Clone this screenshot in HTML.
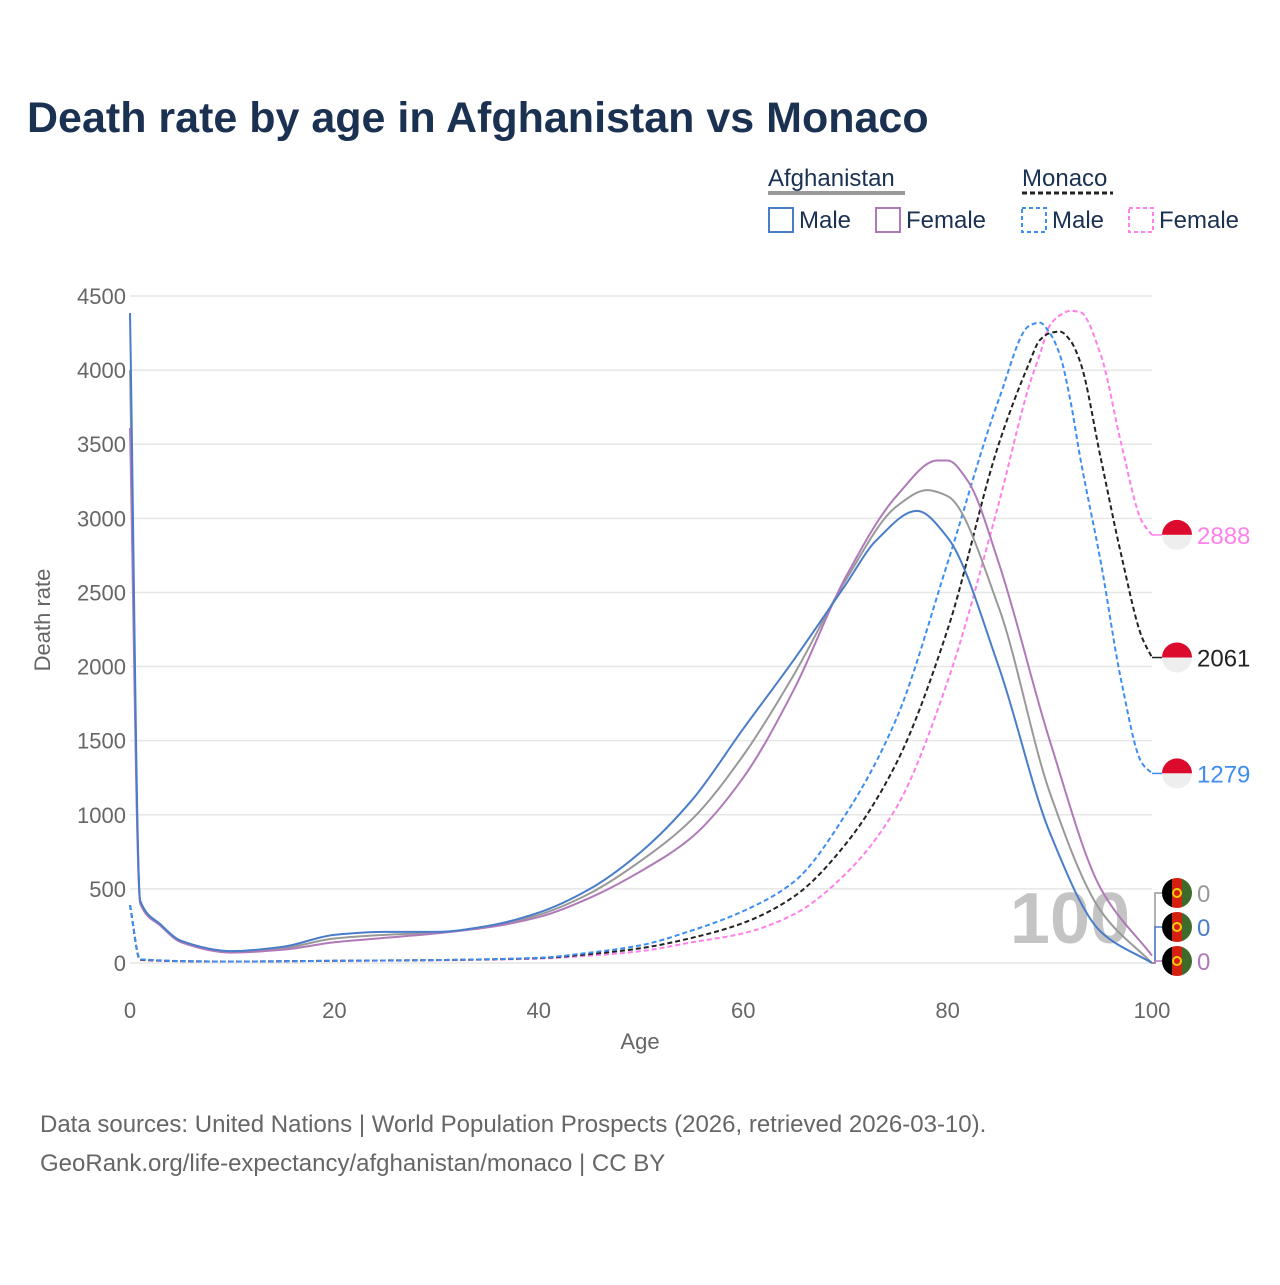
<!DOCTYPE html>
<html><head><meta charset="utf-8">
<style>
body{margin:0;background:#fff;font-family:"Liberation Sans",sans-serif;}
svg text{font-family:"Liberation Sans",sans-serif;}
</style></head>
<body>
<svg width="1280" height="1280" viewBox="0 0 1280 1280">
<defs id="defs"></defs>
<text x="27" y="132" font-size="43" font-weight="bold" fill="#1b3152">Death rate by age in Afghanistan vs Monaco</text>
<g>
<text x="768" y="186" font-size="24" fill="#1b3152">Afghanistan</text>
<line x1="768" y1="193" x2="905" y2="193" stroke="#999" stroke-width="4"/>
<text x="1022" y="186" font-size="24" fill="#1b3152">Monaco</text>
<line x1="1022" y1="193" x2="1113" y2="193" stroke="#222" stroke-width="3" stroke-dasharray="5,3"/>
<rect x="769" y="208" width="24" height="24" fill="none" stroke="#4a7dc9" stroke-width="2"/>
<text x="799" y="228" font-size="24" fill="#1b3152">Male</text>
<rect x="876" y="208" width="24" height="24" fill="none" stroke="#b07ab8" stroke-width="2"/>
<text x="906" y="228" font-size="24" fill="#1b3152">Female</text>
<rect x="1022" y="208" width="24" height="24" fill="none" stroke="#3d8ef0" stroke-width="2" stroke-dasharray="4,3"/>
<text x="1052" y="228" font-size="24" fill="#1b3152">Male</text>
<rect x="1129" y="208" width="24" height="24" fill="none" stroke="#ff80e8" stroke-width="2" stroke-dasharray="4,3"/>
<text x="1159" y="228" font-size="24" fill="#1b3152">Female</text>
</g>
<g id="grid"></g>
<text x="1070" y="943" font-size="72" font-weight="bold" fill="#c4c4c4" text-anchor="middle">100</text>
<g id="series"></g>
<g id="ends"></g>
<text x="640" y="1049" font-size="22" fill="#666" text-anchor="middle">Age</text>
<text transform="translate(50,620) rotate(-90)" font-size="22" fill="#666" text-anchor="middle">Death rate</text>
<text x="40" y="1132" font-size="24" fill="#666">Data sources: United Nations | World Population Prospects (2026, retrieved 2026-03-10).</text>
<text x="40" y="1171" font-size="24" fill="#666">GeoRank.org/life-expectancy/afghanistan/monaco | CC BY</text>
</svg>
<script>
const yTicks=[0,500,1000,1500,2000,2500,3000,3500,4000,4500];
const xTicks=[0,20,40,60,80,100];
const afgMaleAges=[0,1,3,5,10,15,20,25,30,35,40,45,50,55,60,65,70,73,77,80,85,90,95,100];
const afgMale=[4385,420,260,150,80,110,190,210,210,250,340,500,750,1100,1580,2050,2550,2850,3050,2870,2000,880,210,0];
const afgFemAges=[0,1,3,5,10,15,20,25,30,35,40,45,50,55,60,65,70,75,79,80,82,85,90,95,100];
const afgFem=[3610,400,250,140,70,90,140,170,200,240,310,440,620,850,1250,1850,2600,3150,3390,3390,3250,2700,1500,500,50];
const afgAllAges=[0,1,3,5,10,15,20,25,30,35,40,45,50,55,60,65,70,75,78,80,85,90,95,100];
const afgAll=[4000,410,255,145,75,100,165,190,205,245,325,470,690,970,1400,1950,2580,3080,3190,3150,2400,1150,350,0];
const monAges=[0,1,10,20,30,40,45,50,55,60,65,70,75,80,85,88,89,90,91,92,93,95,97,99,100];
const monMale=[390,25,10,15,20,35,70,120,220,350,550,1000,1650,2700,3800,4300,4320,4250,4100,3800,3400,2700,1900,1350,1279];
const monAll=[390,22,10,15,20,33,60,100,170,270,450,800,1350,2250,3500,4050,4200,4250,4260,4200,4050,3400,2750,2200,2061];
const monFem=[390,20,10,14,18,30,50,80,140,200,330,600,1050,1900,3100,3900,4100,4300,4370,4400,4390,4100,3500,2980,2888];
const X=a=>130+a*10.22, Y=v=>963-v*667/4500;
const NS="http://www.w3.org/2000/svg";
function mk(t,at,p){const e=document.createElementNS(NS,t);for(const k in at)e.setAttribute(k,at[k]);p.appendChild(e);return e;}
const grid=document.getElementById('grid');
yTicks.forEach(v=>{
 const l=mk('line',{x1:130,x2:1152,y1:Y(v),y2:Y(v),stroke:'#e6e6e6','stroke-width':1.5},grid);
 
 
 const t=mk('text',{x:126,y:Y(v)+8,'font-size':22,fill:'#666','text-anchor':'end'},grid);t.textContent=v;
 
 
});
xTicks.forEach(v=>{
 const t=mk('text',{x:X(v),y:1018,'font-size':22,fill:'#666','text-anchor':'middle'},grid);t.textContent=v;
 
 
});
function path(ages,vals){
 const n=ages.length,x=ages.map(X),y=vals.map(Y);
 const d=[],m=new Array(n);
 for(let i=0;i<n-1;i++)d.push((y[i+1]-y[i])/(x[i+1]-x[i]));
 m[0]=d[0];m[n-1]=d[n-2];
 for(let i=1;i<n-1;i++){
  if(d[i-1]*d[i]<=0)m[i]=0;
  else{const h0=x[i]-x[i-1],h1=x[i+1]-x[i];const w1=2*h1+h0,w2=h1+2*h0;m[i]=(w1+w2)/(w1/d[i-1]+w2/d[i]);}
 }
 let s='M'+x[0]+','+y[0];
 for(let i=0;i<n-1;i++){
  const h=(x[i+1]-x[i])/3;
  s+='C'+(x[i]+h)+','+(y[i]+m[i]*h)+' '+(x[i+1]-h)+','+(y[i+1]-m[i+1]*h)+' '+x[i+1]+','+y[i+1];
 }
 return s;
}
const S=document.getElementById('series');
function line(ages,vals,col,dash,name){
 const e=mk('path',{d:path(ages,vals),fill:'none',stroke:col,'stroke-width':2,'stroke-dasharray':dash||'none'},S);
 
 
}
line(monAges,monFem,'#ff80e8','5,3','monaco-female-line');
line(monAges,monAll,'#222','5,3','monaco-total-line');
line(monAges,monMale,'#3d8ef0','5,3','monaco-male-line');
line(afgAllAges,afgAll,'#999','','afghanistan-total-line');
line(afgFemAges,afgFem,'#b07ab8','','afghanistan-female-line');
line(afgMaleAges,afgMale,'#4a7dc9','','afghanistan-male-line');
const E=document.getElementById('ends');
const defs=document.getElementById('defs');
let fid=0;
function flag(cy,afg){
 const g=mk('g',{},E);
 
 
 const cx=1177;
 if(afg){
  const id='fc'+(fid++);
  const cp=mk('clipPath',{id:id},defs);
  mk('circle',{cx:cx,cy:cy,r:15},cp);
  g.setAttribute('clip-path','url(#'+id+')');
  mk('rect',{x:cx-15,y:cy-15,width:10,height:30,fill:'#000'},g);
  mk('rect',{x:cx-5,y:cy-15,width:10,height:30,fill:'#d32011'},g);
  mk('rect',{x:cx+5,y:cy-15,width:10,height:30,fill:'#3f6b2a'},g);
  mk('circle',{cx:cx,cy:cy,r:4,fill:'none',stroke:'#f5d00a','stroke-width':2},g);
 }else{
  mk('path',{d:`M${cx-15},${cy} A15,15 0 0 1 ${cx+15},${cy}Z`,fill:'#dc0a2c'},g);
  mk('path',{d:`M${cx-15},${cy} A15,15 0 0 0 ${cx+15},${cy}Z`,fill:'#eee'},g);
 }
}
function endLabel(v,ly,col,afg,txt){
 const y0=Y(v);
 const c=mk('path',{d:`M1152,${y0} L1155,${y0} L1155,${ly} L1162,${ly}`,fill:'none',stroke:col,'stroke-width':1.5},E);
 
 
 flag(ly,afg);
 const t=mk('text',{x:1197,y:ly+9,'font-size':24,fill:col},E);t.textContent=txt;
 
 
}
endLabel(monFem[monFem.length-1],Y(monFem[monFem.length-1]),'#ff80e8',false,monFem[monFem.length-1]);
endLabel(monAll[monAll.length-1],Y(monAll[monAll.length-1]),'#222',false,monAll[monAll.length-1]);
endLabel(monMale[monMale.length-1],Y(monMale[monMale.length-1]),'#3d8ef0',false,monMale[monMale.length-1]);
endLabel(afgAll[afgAll.length-1],893,'#999',true,'0');
endLabel(afgMale[afgMale.length-1],927,'#4a7dc9',true,'0');
endLabel(0,961,'#b07ab8',true,'0');
</script>
</body></html>
